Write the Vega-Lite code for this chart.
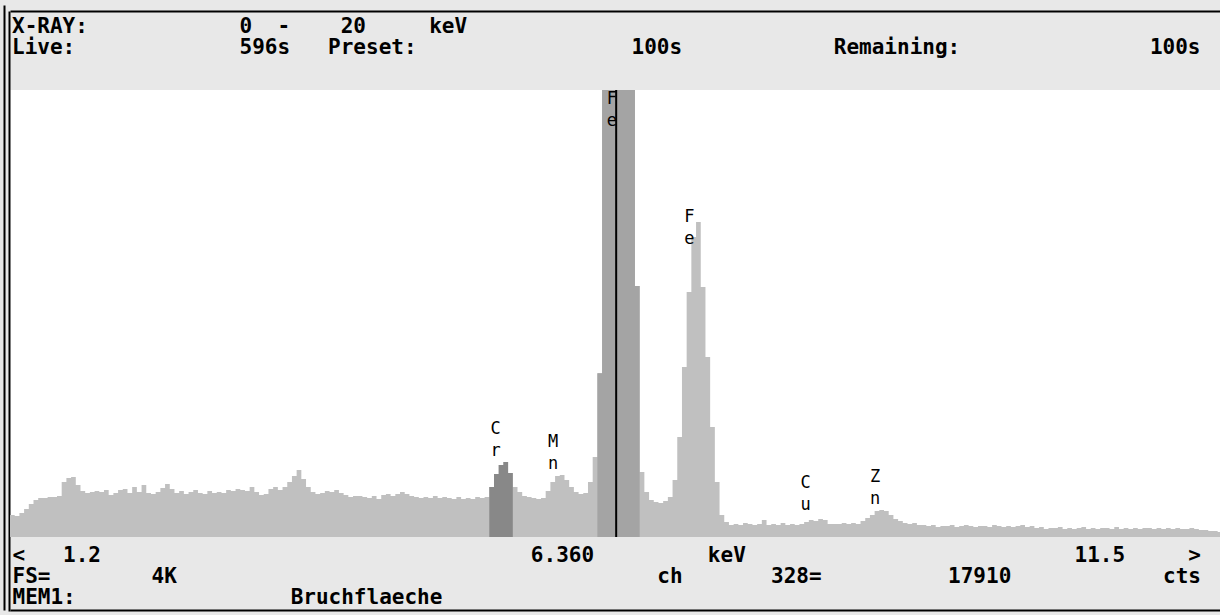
{
  "$schema": "https://vega.github.io/schema/vega-lite/v6.json",
  "width": 1210,
  "height": 447,
  "autosize": {"type": "none"},
  "padding": {"left": 10, "top": 90, "right": 0, "bottom": 78},
  "background": "#e8e8e8",
  "config": {"view": {"stroke": null, "fill": "#ffffff"}},
  "title": {
    "text": [
      "X-RAY:\u00a0\u00a0\u00a0\u00a0\u00a0\u00a0\u00a0\u00a0\u00a0\u00a0\u00a0\u00a00\u00a0\u00a0-\u00a0\u00a0\u00a0\u00a020\u00a0\u00a0\u00a0\u00a0\u00a0keV",
      "Live:\u00a0\u00a0\u00a0\u00a0\u00a0\u00a0\u00a0\u00a0\u00a0\u00a0\u00a0\u00a0\u00a0596s\u00a0\u00a0\u00a0Preset:\u00a0\u00a0\u00a0\u00a0\u00a0\u00a0\u00a0\u00a0\u00a0\u00a0\u00a0\u00a0\u00a0\u00a0\u00a0\u00a0\u00a0100s\u00a0\u00a0\u00a0\u00a0\u00a0\u00a0\u00a0\u00a0\u00a0\u00a0\u00a0\u00a0Remaining:\u00a0\u00a0\u00a0\u00a0\u00a0\u00a0\u00a0\u00a0\u00a0\u00a0\u00a0\u00a0\u00a0\u00a0\u00a0100s"
    ],
    "anchor": "start",
    "frame": "group",
    "font": "DejaVu Sans Mono",
    "fontSize": 21,
    "fontWeight": "bold",
    "color": "#000000",
    "lineHeight": 21,
    "offset": -54,
    "dx": 2
  },
  "datasets": {
    "spec": [
      {"e":1.2,"c":202},{"e":1.24,"c":192},{"e":1.28,"c":220},{"e":1.32,"c":257},{"e":1.36,"c":302},{"e":1.4,"c":339},{"e":1.44,"c":357},{"e":1.48,"c":357},{"e":1.52,"c":367},{"e":1.56,"c":367},{"e":1.6,"c":376},{"e":1.64,"c":504},{"e":1.68,"c":541},{"e":1.72,"c":550},{"e":1.76,"c":476},{"e":1.8,"c":421},{"e":1.84,"c":403},{"e":1.88,"c":412},{"e":1.92,"c":421},{"e":1.96,"c":412},{"e":2.0,"c":431},{"e":2.04,"c":385},{"e":2.08,"c":403},{"e":2.12,"c":431},{"e":2.16,"c":440},
      {"e":2.2,"c":403},{"e":2.24,"c":458},{"e":2.28,"c":412},{"e":2.32,"c":476},{"e":2.36,"c":403},{"e":2.4,"c":394},{"e":2.44,"c":412},{"e":2.48,"c":449},{"e":2.52,"c":486},{"e":2.56,"c":440},{"e":2.6,"c":403},{"e":2.64,"c":421},{"e":2.68,"c":394},{"e":2.72,"c":412},{"e":2.76,"c":431},{"e":2.8,"c":403},{"e":2.84,"c":394},{"e":2.88,"c":421},{"e":2.92,"c":403},{"e":2.96,"c":412},{"e":3.0,"c":403},{"e":3.04,"c":431},{"e":3.08,"c":421},{"e":3.12,"c":440},{"e":3.16,"c":431},
      {"e":3.2,"c":421},{"e":3.24,"c":458},{"e":3.28,"c":412},{"e":3.32,"c":385},{"e":3.36,"c":394},{"e":3.4,"c":440},{"e":3.44,"c":458},{"e":3.48,"c":431},{"e":3.52,"c":458},{"e":3.56,"c":504},{"e":3.6,"c":559},{"e":3.64,"c":614},{"e":3.68,"c":531},{"e":3.72,"c":458},{"e":3.76,"c":412},{"e":3.8,"c":394},{"e":3.84,"c":403},{"e":3.88,"c":421},{"e":3.92,"c":412},{"e":3.96,"c":431},{"e":4.0,"c":403},{"e":4.04,"c":385},{"e":4.08,"c":367},{"e":4.12,"c":376},{"e":4.16,"c":376},
      {"e":4.2,"c":367},{"e":4.24,"c":357},{"e":4.28,"c":376},{"e":4.32,"c":348},{"e":4.36,"c":385},{"e":4.4,"c":394},{"e":4.44,"c":376},{"e":4.48,"c":394},{"e":4.52,"c":412},{"e":4.56,"c":394},{"e":4.6,"c":376},{"e":4.64,"c":367},{"e":4.68,"c":357},{"e":4.72,"c":367},{"e":4.76,"c":357},{"e":4.8,"c":376},{"e":4.84,"c":357},{"e":4.88,"c":367},{"e":4.92,"c":357},{"e":4.96,"c":348},{"e":5.0,"c":367},{"e":5.04,"c":348},{"e":5.08,"c":357},{"e":5.12,"c":348},{"e":5.16,"c":367},
      {"e":5.2,"c":357},{"e":5.24,"c":367},{"e":5.28,"c":458},{"e":5.32,"c":577},{"e":5.36,"c":660},{"e":5.4,"c":687},{"e":5.44,"c":586},{"e":5.48,"c":458},{"e":5.52,"c":412},{"e":5.56,"c":376},{"e":5.6,"c":367},{"e":5.64,"c":357},{"e":5.68,"c":348},{"e":5.72,"c":357},{"e":5.76,"c":421},{"e":5.8,"c":504},{"e":5.84,"c":559},{"e":5.88,"c":568},{"e":5.92,"c":522},{"e":5.96,"c":458},{"e":6.0,"c":412},{"e":6.04,"c":394},{"e":6.08,"c":403},{"e":6.12,"c":504},{"e":6.16,"c":733},
      {"e":6.2,"c":1500},{"e":6.24,"c":4600},{"e":6.28,"c":10500},{"e":6.32,"c":16500},{"e":6.36,"c":17910},{"e":6.4,"c":15500},{"e":6.44,"c":10000},{"e":6.48,"c":5000},{"e":6.52,"c":2300},{"e":6.56,"c":596},{"e":6.6,"c":412},{"e":6.64,"c":339},{"e":6.68,"c":321},{"e":6.72,"c":312},{"e":6.76,"c":330},{"e":6.8,"c":367},{"e":6.84,"c":522},{"e":6.88,"c":916},{"e":6.92,"c":1558},{"e":6.96,"c":2245},{"e":7.0,"c":2749},{"e":7.04,"c":2886},{"e":7.08,"c":2291},{"e":7.12,"c":1649},{"e":7.16,"c":1008},
      {"e":7.2,"c":504},{"e":7.24,"c":202},{"e":7.28,"c":137},{"e":7.32,"c":110},{"e":7.36,"c":119},{"e":7.4,"c":110},{"e":7.44,"c":128},{"e":7.48,"c":119},{"e":7.52,"c":110},{"e":7.56,"c":119},{"e":7.6,"c":156},{"e":7.64,"c":110},{"e":7.68,"c":119},{"e":7.72,"c":110},{"e":7.76,"c":128},{"e":7.8,"c":110},{"e":7.84,"c":119},{"e":7.88,"c":110},{"e":7.92,"c":119},{"e":7.96,"c":137},{"e":8.0,"c":156},{"e":8.04,"c":147},{"e":8.08,"c":165},{"e":8.12,"c":156},{"e":8.16,"c":119},
      {"e":8.2,"c":119},{"e":8.24,"c":119},{"e":8.28,"c":128},{"e":8.32,"c":119},{"e":8.36,"c":128},{"e":8.4,"c":119},{"e":8.44,"c":147},{"e":8.48,"c":174},{"e":8.52,"c":202},{"e":8.56,"c":238},{"e":8.6,"c":247},{"e":8.64,"c":238},{"e":8.68,"c":202},{"e":8.72,"c":165},{"e":8.76,"c":147},{"e":8.8,"c":128},{"e":8.84,"c":119},{"e":8.88,"c":128},{"e":8.92,"c":110},{"e":8.96,"c":110},{"e":9.0,"c":101},{"e":9.04,"c":110},{"e":9.08,"c":92},{"e":9.12,"c":101},{"e":9.16,"c":101},
      {"e":9.2,"c":110},{"e":9.24,"c":92},{"e":9.28,"c":101},{"e":9.32,"c":110},{"e":9.36,"c":101},{"e":9.4,"c":92},{"e":9.44,"c":101},{"e":9.48,"c":101},{"e":9.52,"c":92},{"e":9.56,"c":110},{"e":9.6,"c":101},{"e":9.64,"c":92},{"e":9.68,"c":101},{"e":9.72,"c":92},{"e":9.76,"c":101},{"e":9.8,"c":110},{"e":9.84,"c":92},{"e":9.88,"c":101},{"e":9.92,"c":82},{"e":9.96,"c":92},{"e":10.0,"c":73},{"e":10.04,"c":82},{"e":10.08,"c":82},{"e":10.12,"c":92},{"e":10.16,"c":73},
      {"e":10.2,"c":82},{"e":10.24,"c":73},{"e":10.28,"c":82},{"e":10.32,"c":92},{"e":10.36,"c":73},{"e":10.4,"c":82},{"e":10.44,"c":73},{"e":10.48,"c":82},{"e":10.52,"c":82},{"e":10.56,"c":73},{"e":10.6,"c":92},{"e":10.64,"c":73},{"e":10.68,"c":82},{"e":10.72,"c":73},{"e":10.76,"c":82},{"e":10.8,"c":73},{"e":10.84,"c":82},{"e":10.88,"c":82},{"e":10.92,"c":73},{"e":10.96,"c":82},{"e":11.0,"c":73},{"e":11.04,"c":82},{"e":11.08,"c":73},{"e":11.12,"c":82},{"e":11.16,"c":73},
      {"e":11.2,"c":73},{"e":11.24,"c":82},{"e":11.28,"c":73},{"e":11.32,"c":64},{"e":11.36,"c":64},{"e":11.4,"c":55},{"e":11.44,"c":55},{"e":11.48,"c":46},{"e":11.5,"c":46}
    ],
    "peaks": [
      {"el":"C\nr","e":5.41,"c":905},
      {"el":"M\nn","e":5.9,"c":786},
      {"el":"F\ne","e":6.4,"c":3930},
      {"el":"F\ne","e":7.06,"c":2848},
      {"el":"C\nu","e":8.05,"c":410},
      {"el":"Z\nn","e":8.64,"c":465}
    ],
    "cursor": [{"cur": 6.36}]
  },
  "layer": [
    {
      "data": {"name": "spec"},
      "mark": {"type": "area", "interpolate": "step-after", "color": "#c0c0c0", "clip": true},
      "encoding": {
        "x": {
          "field": "e", "type": "quantitative",
          "scale": {"domain": [1.2, 11.5], "nice": false, "zero": false},
          "axis": {
            "orient": "bottom", "offset": 73, "domain": true, "domainColor": "#000000", "domainWidth": 2,
            "values": [1.2], "ticks": true, "tickSize": -605, "tickOffset": -6, "tickColor": "#000000", "tickWidth": 2,
            "labels": false, "grid": false,
            "title": [
              "<\u00a0\u00a0\u00a01.2\u00a0\u00a0\u00a0\u00a0\u00a0\u00a0\u00a0\u00a0\u00a0\u00a0\u00a0\u00a0\u00a0\u00a0\u00a0\u00a0\u00a0\u00a0\u00a0\u00a0\u00a0\u00a0\u00a0\u00a0\u00a0\u00a0\u00a0\u00a0\u00a0\u00a0\u00a0\u00a0\u00a0\u00a06.360\u00a0\u00a0\u00a0\u00a0\u00a0\u00a0\u00a0\u00a0\u00a0keV\u00a0\u00a0\u00a0\u00a0\u00a0\u00a0\u00a0\u00a0\u00a0\u00a0\u00a0\u00a0\u00a0\u00a0\u00a0\u00a0\u00a0\u00a0\u00a0\u00a0\u00a0\u00a0\u00a0\u00a0\u00a0\u00a011.5\u00a0\u00a0\u00a0\u00a0\u00a0>",
              "FS=\u00a0\u00a0\u00a0\u00a0\u00a0\u00a0\u00a0\u00a04K\u00a0\u00a0\u00a0\u00a0\u00a0\u00a0\u00a0\u00a0\u00a0\u00a0\u00a0\u00a0\u00a0\u00a0\u00a0\u00a0\u00a0\u00a0\u00a0\u00a0\u00a0\u00a0\u00a0\u00a0\u00a0\u00a0\u00a0\u00a0\u00a0\u00a0\u00a0\u00a0\u00a0\u00a0\u00a0\u00a0\u00a0\u00a0ch\u00a0\u00a0\u00a0\u00a0\u00a0\u00a0\u00a0328=\u00a0\u00a0\u00a0\u00a0\u00a0\u00a0\u00a0\u00a0\u00a0\u00a017910\u00a0\u00a0\u00a0\u00a0\u00a0\u00a0\u00a0\u00a0\u00a0\u00a0\u00a0\u00a0cts",
              "MEM1:\u00a0\u00a0\u00a0\u00a0\u00a0\u00a0\u00a0\u00a0\u00a0\u00a0\u00a0\u00a0\u00a0\u00a0\u00a0\u00a0\u00a0Bruchflaeche"
            ],
            "titleFont": "DejaVu Sans Mono", "titleFontSize": 21, "titleFontWeight": "bold", "titleColor": "#000000",
            "titleAnchor": "start", "titleAlign": "left", "titleBaseline": "top",
            "titleX": 2, "titleY": -66, "titleLineHeight": 21
          }
        },
        "y": {
          "field": "c", "type": "quantitative",
          "scale": {"domain": [0, 4096], "nice": false, "zero": true},
          "axis": {
            "orient": "right", "offset": 0, "domain": false,
            "values": [4096], "ticks": true, "tickSize": -1217, "tickOffset": -84, "tickColor": "#000000", "tickWidth": 2,
            "labels": false, "grid": false, "title": null
          }
        }
      }
    },
    {
      "data": {"name": "spec"},
      "transform": [{"filter": "datum.e >= 5.28 && datum.e <= 5.48"}],
      "mark": {"type": "area", "interpolate": "step-after", "color": "#888888", "clip": true},
      "encoding": {
        "x": {"field": "e", "type": "quantitative", "axis": null},
        "y": {"field": "c", "type": "quantitative", "axis": null}
      }
    },
    {
      "data": {"name": "spec"},
      "transform": [{"filter": "datum.e >= 6.2 && datum.e <= 6.56"}],
      "mark": {"type": "area", "interpolate": "step-after", "color": "#a4a4a4", "clip": true},
      "encoding": {
        "x": {"field": "e", "type": "quantitative", "axis": null},
        "y": {"field": "c", "type": "quantitative", "axis": null}
      }
    },
    {
      "data": {"name": "cursor"},
      "mark": {"type": "rule", "color": "#000000", "strokeWidth": 2},
      "encoding": {
        "x": {
          "field": "cur", "type": "quantitative",
          "axis": {
            "orient": "top", "offset": 79, "domain": true, "domainColor": "#000000", "domainWidth": 2,
            "values": [1.2], "ticks": true, "tickSize": -600, "tickOffset": -1.5, "tickColor": "#000000", "tickWidth": 2,
            "labels": false, "grid": false, "title": null
          }
        }
      }
    },
    {
      "data": {"name": "peaks"},
      "mark": {"type": "text", "font": "DejaVu Sans Mono", "fontSize": 17, "lineBreak": "\n", "lineHeight": 22, "align": "center", "baseline": "bottom", "dx": -9, "color": "#000000"},
      "encoding": {
        "x": {"field": "e", "type": "quantitative", "axis": null},
        "y": {"field": "c", "type": "quantitative", "axis": null},
        "text": {"field": "el"}
      }
    }
  ]
}
